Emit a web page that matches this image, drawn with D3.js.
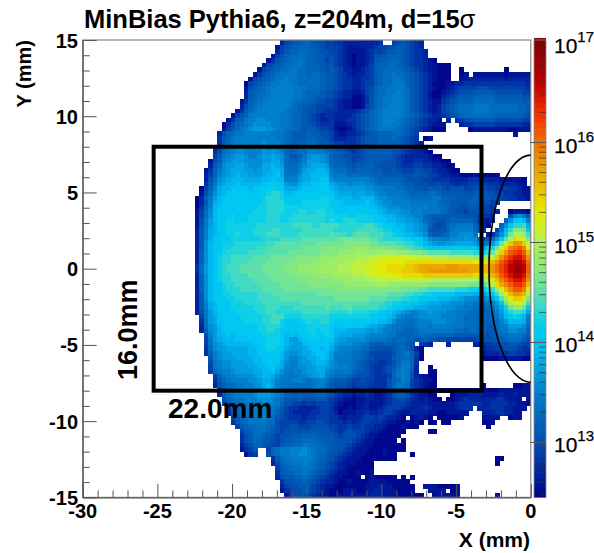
<!DOCTYPE html>
<html>
<head>
<meta charset="utf-8">
<title>MinBias Pythia6</title>
<script src="https://cdn.jsdelivr.net/npm/d3@7"></script>
<style>
  html, body { margin: 0; padding: 0; background: #fff; }
  svg { display: block; }
  text { font-family: "Liberation Sans", Arial, sans-serif; fill: #000; }
</style>
</head>
<body>
<svg id="chart" width="594" height="553"></svg>
<script>
// ─── Data ────────────────────────────────────────────────────
const titleText = "MinBias Pythia6, z=204m, d=15";
const xTicks = [-30, -25, -20, -15, -10, -5, 0];
const yTicks = [-15, -10, -5, 0, 5, 10, 15];
const zDecades = [13, 14, 15, 16, 17];
const boxCorners = [[-25.25, -8], [-3.3, 8]];
const ellipseRadii = [2.8, 7.45];

// one char per bin, log10(flux) = 12.5 + 0.1 * index in levelChars, "." = empty
const levelChars = "abcdefghijklmnopqrstuvwxyzABCDEFGHIJKLMNOPQRS";
const firstColumn = 25; // columns before this one are always empty
// rows run from y=+15 down to y=-15, columns from x=-22.5 to x=0, 0.3mm bins
const rows = [
"..... ..... ..... ....c efggh hgffe eddcc ccccc cd..e fgfed c....",
"..... ..... ..... ...be fghhh hggfe eedcb bbccc deeff ggfed c....",
"..... ..... ..... ...ce ghhii hhgff eedcb bbbcd eefgg hgfed dc...",
"..... ..... ..... ..bef hiiii hhggf fedcb abbcd ffghh hgfed dc...",
"..... ..... ..... .bdfg hiiji hhgge fedcb abbcd gghhi hgfed dcba.",
"..... ..... ..... befgh iijji hhhgf gedcb abbce ghhii hgfed dcbba aa...",
"..... ..... ....b efghi ijjii hhhgf gfecc bbcde ghiii ihgfe dcbba aa..a ..... ....a",
"..... ..... ...bd fghij jjjii hiihg gfedc bccde ghiij iihgf edcba aa..a b.bbb bbbba bbbbb",
"..... ..... ..bef ghijj kjjii iiihg gfedd ccdde ghiij jihgf edcba aa..b bcccc ccccb ccccc",
"..... ..... .aefg hijjk kjjii iiihg gfedd ccdee ghiij jjhgf edcaa abbcc ddddd ddddd ddddc",
"..... ..... .bfgh ijjkk kkjjj iiihg gfedd ccdef hiijj jjigf edcba abcde eeeff feeee eeeed",
"..... ..... .cghi ijkkk kkjji hhhgf fedcc bbcef hiijj kjigf edbaa bcdef ffggg ggfff fffee",
"..... ..... .cghi jjkkk kkjji hhggf fedcc aabdf hijjk kjigf edbaa cdefg gghhh hhggg gggff",
"..... ..... bdhij jkkkk kjiih hgffe edcbb aabdf hijjk kjigf edcbb defgh hhiii iihhh hhhgg",
"..... ..... cfhij kkkkk kjihg gfeee edcbb aabef hijkk kjigf edcbc efghi iijjj jiiii iihhg",
"..... ....b dgijk kkkkk jiihg ffeed ddccc cdefh ijkkk kjigf edcbc efghi iijjj jiiii iihhg",
"..... ...be ghjkk kkkkj jihhg fedcd dcccc defgh ijkkk kjihg fedcc defgh iiiii iihhh hhhgf",
"..... ..bdg hjkkl lkkkj jiihg fedcc dcccd defgh ijkkk jihgf edccb .c.de fgggg ggfff fffee",
"..... .adfh ijkll llkkj jihhg gfedd dbbbc defgh ijkkj jihgf edcbb b...c ddeee eeddd dddcc",
"..... .begi jklmm mllkk jiihg ggfee dbaab cefgh ijjjj ihgfe dcbaa a.... .abbb bbbbb aabbb",
"..... cfhij jkkkk kkjjj ihggg hggff ecbbc cdefg ghhhh ihgfe ..... ..... ..... ..... .b...",
"..... dghjk kkkkk kkkjj ihggg hhggf ecccd defgg ghhhi hgfed .ab..",
"..... dgijk kkkkk lkkkj ihghh iihgg feedd defgg ghhhh hgfed c....",
"....c ehjkl lkkkk lkkkj iggii jjiih gffed defgg ggggg gfedc cb...",
"....d fijkl lkkkk mlmlk hghii kkjji hggfe defgg ggggf fedcc cba..",
"....e gjklm mlkkl mmnml igghj lmmlk hggff eefgg ggggf edccc ccbaa",
"...bf hklmm mllll mmnnl ihhik mmmlk hhggf efggg ggfff edccd dccbb aa...",
"...cg ilmmn nmlll nnonm iiijl mnnnm ihhhg fgghh gffff eddde eddcc baa..",
"..bdh jlmnn nmmlm nnoon jiikm nnoon jiiih ghhhh ggffg feeef feedc cbaa.",
"..ceh klmno nnmmm noopn jjjln noooo kjjji iiiih hhggg gfffg ffeed ccbba aabaa aab..",
"..cfi lmnoo onnnn oopoo kkkmn noopp lkkkk kkkkj ihhhh hgfff feedd ddccc cdddc cccbb bbba.",
"..dgj mnoop ooooo ppqpp mllno oppqp nmllk lllkk jiiii ihggf ffeef eedcd deeee dddcc ccbb.",
".aehk noopp ppopp qqrqq nnnop pppqq onmmm mmmll kkjjj iihhg gfggg fefff eefff eedde ddcbb",
".bfil nopqq qqppq qrssr oopqq qqqqq ponnn mnnmm lkkjj jjihh hhiih ggggg ffggg ffeed dccbb",
"achjm opqqq qqqqq rsssr qqqqq qqqrr qoooo nnooo mllkk kjjii iiijj hhhgg gghgg gffee ddccb",
"acgkn opqqq qqqqq rssss qqqqr rrrrr qppoo ooopo nmllk kkkjj jjjji hhggg ghhgf fed.. .....",
"adhko pqqqq qqqqr rssss rrrrr rrrrr qqppp ppppo onmll lkkkk kkjji ihggf fggfe ed... .....",
"beilo pqqqq qqqrr rssss rrrss rrssr rqqqq qqqqp ponmm mllkk kjjjj ihgff efffe edc.. abbba",
"beilo pqqrq qqrrr rsssr rrsss ssssr rrrrq qrrrq qpoon mmllk kihgg ggggg fffed dc... fkljg",
"bfjmo pqrrq qqrrr rsssr rssss ssssr srrss srrrr qppoo nnmml kihgf fghhh hhgec bc..h lpqok",
"bfjmo pqrrr rrrrs sssss ssttt tsstt ttsss ssstt srqqp oonnm lkhfe fhijj jjhfc a..hl psstn",
"cgkno pqrrr rrrss sstts sssst ttttt tssss stttt tsrrq ponnm lkgff ghjkk kkigd ..ejo swwvq",
"cgkno pqrrs rrrss sttts ssstt ttttt uttts tuuut ttssr qpoon mlhgg hikkl llj.. bdhlq vzzyt",
"cgknp qqqrr rrrrr sssst ttttu uuuuu uuvvv vvvvu utsss srrqq pnlkk kklll mllif fimqu zDCBw",
"cglop qrrrs sssss sttuu uuuuu uuvvv vvvww wwwwv vuuuu ttssr qonml lmmnn nnmki jmqvA EHHEA",
"cglop qrrss sssst ttuuu uuuuv vvvvw wwwww xxxxw wwwvv vuuts srqpp ppqqq qppon psvAE IJKIC",
"chlop qrsss ssttt tuuuu uvvvv vvvww wwxxx xyyyx xyyyy xxxww wvuuu uuttt ttssr tvAEH KLMKF",
"chlop rsstt tttuu uuvvv vvvww wwwxx xxyyy yzzzA AABBB BBBAA AAAzz zyyyy yyxxw xAEHK MOOMH",
"chlop rsstt ttuuu uvvvv vwwww wxxxx yyyyz zAAAB BCCCC CCDDD DDDDD DDDDD DDCCC DFHKM OQQOJ",
"dimop rsttt uuuuu vvvvv wwwxx xxxyy yyzzz AAABB CCCDD DDEEF GGGGG GHHHG GGGGF FHJLN PRSPK",
"dimop rsttt uuuuu vvvvv wwwxx xxyyy yyzzz AAABB CCCDD DEEEF GGHHH HHHHH HGGGF FHJLN PRSPK",
"chlop rsstt ttuuu uvvvv vwwww wxxxx xyyyy zzzAA BBBBC CDDDD DEEEE EEEEE EEDDD DFHKM OQQOJ",
"chlop rsstt tttuu uuvvv vvvww wwwww xxxxy yyyzz zAAAA AAAAA AAAzz zzzzz zzzyy zCFIK MOOMH",
"chlop qrsst ttttu uuuuv vvvvv wwwww wwwxx xxxxx yyyxx xxxxx xxwww wwwww wvvvu wzDGI KMMKF",
"chlop qrsss ttttt uuuuu vvvvv vvvvv vwwww wwwww wwwww wvvvv uuttt tttss srrqq stxCF IKKIC",
"cglop qrrss sssst ttuuu uuuuu uuvvv vvvvv vvvvv vvvuu uutts srrqq qppoo oonnm oqtyC FHHFz",
"cglop qqrrs sssst ttttu uuuuu uuuuu uvvvv vvvvu uuutt tssrr qqppo oonnm lllkk lnpuy CEECw",
"cgkno qqqrr rssss ttttt ttttu uuuuu uuuuu uuuut ttssr rqqpp oonnn mmlll kkjji jkmqv zBBzt",
"cgkno pqqrr rrrss sttts ssttt ttttu tttuu ttttt tssrq qpoon nnmmm lllkk jjiih ijlnr vxxvq",
"cfjmo pqqqr rrrrs sttss sssst ttttt sssst ssssr rqppo nmlkk llmll lkkkj jiiih hikmp sttsn",
".ejmn pqqqq rrrrr ssttt rrrrs sssss rrrrr rrrrq qppon lkjjk lllll kkkjj iiihh hijlo qrqok",
".dimn ppqqq qrrrr ssttr qqqqr srrss rqqqq qqqqp poonl jjiij kkkll lkkjj iiiih hhikm ooonj",
".cilm opqqq qqqqr rsssr qppqq rrrrr qppqp pppon nmlkj jiiij kkjkk kkjjj iiihh ggijk mmmli",
".chlm opppq qqqqr rssrq pppqq rrqrr qooon nnnml mlkkj iihhi jjjjj jjjii hiihh gghjj llkkh",
"..fkm oopop ppqqq rrrrq opopq qrqqr qonnn mmmlk kkkjj hhhhh iiihh hhhgg ggggg fghii jjjig",
"..ejm nooop ppppq qrrrq ommop pqqpq pnmml lllkj jjjih iihhg ghggf feeee eeeff fffhh iiihf",
"..ejl mnooo ooopp qrrrq onmmo ppppp omlll kkjjh gghhg hhgf. edc.. .c... ..ccd deeff ggfee",
"..dil mmnnn nnoop qrrqp nmmmn oppop nlkkk jjiig ffffg hihfc a.... ..... ....c ddeef ffedd",
"..dhk lmmnn nnoop pqqpo mllmn noppo mkkjj iihge eeeef hijhe a.... ..... ....b cccdd eeddc",
"...gk lmmmn nnnoo ppqpo mkklm nnopo mjjjj iihgf eeeeg hiihd a.... ..... ....a aaabb bbbaa",
"...fj kllmm mnnoo ppqpn lkklm mnoon lkjjj ihgfe eddef hjjhd",
"...ej kllmm mmnno oppon kkkll mmnnm lkkkj ihgfe ddefg ikkhc ..a..",
"...ei jkklm mmmnn oopnl kjkkl mmnnl kjjjj hggfe ddefh jkjgc ..aa.",
"....e hjkkl lllmn oonlk jjjkk lmmnk jiiih gfffe dddeh jkjfc bbaa.",
"....d gijkk kkllm nnmkj jjkkj ijkkj hgggf eefee dddfh ikjed cbba.",
"....c fhiij jkkll nomkj jiiii ijkki gfffe deeed dddfh jjied cbaa. ..... ....a ..... .aabb",
"..... dgiij jjkkl mnlji iiiih hjjih ggfed cdeed ccdfg iihdc baaaa aaaaa aaaaa aaabb bbbbb",
"..... cgijk kkklm mmlkj hhghg gghhg fedcc bccdc bbcdf ggfdc bbaa. ..abb bcccb bbbcb bcbbb",
"..... .fhij jkkkl llkji ggggf ffggf edcbb abbcc bbcde ffedc bcbaa .aabc dcccc ccddc bbb.b",
"..... .egii jjkkk lkkjh ffeed edeee dcbaa abbcb bbcde eedcc ccbbb bbbcd ddddc cdddd ccbba",
"..... ..dhi jjkkk kkjig eddcc ccdee dbaab abccb bcdee edccc cdcbb bbbcd dd.cc cdddc cbbb.",
"..... ..chi ijjjk kjjhf edccc cddee dcabb bccdc cdeed cbbcc ccbba abbbb b...c ccddc cbb..",
"..... ...eh iijjj kjigf edddc ddeee ddcbc ccdee dedcc ba.ab cba.a aaaab ....b bbb.. abb..",
"..... ...dg hijjj jiife eeedd eeffe dddcd cdeed ddcbb aabab a.aa. aa... ....a ab...",
"..... ....e ghiij jihfe effee effff eedde ddedd ccbaa abaaa ..... ..... ..... a....",
"..... ..... eghii ihgfe fffff fgggg fedef eeedc cbaaa aa... ..aa.",
"..... ..... dfgii hgfef fgggh hhggg gfeff fedcb baaaa a....",
"..... ..... dfgih ggfef gghhi iihhg gffff edcbb aaaaa .a...",
"..... ..... cefhh gfeeg hhiij jiihh gfffe dcbbb aaaaa aa...",
"..... ..... bdeg. .ehij jkkkl kjiih gffed cbbba aabaa aa...",
"..... ..... .bde. .fhij jkkll kjihg ffedc bbbaa aabaa ...a.",
"..... ..... ..... ..dgi jjkkk kjihg fedcb bbaaa aaaaa ..... ..... ..... ..... ..aa.",
"..... ..... ..... ..cfh ijjjk jihgf edcbb baaaa ..... ..... ..... ..... ..... ..a..",
"..... ..... ..... ...eg hiiij jihgf edcba aaaaa",
"..... ..... ..... ...dg hhiij ihgfe dcbba abaab",
"..... ..... ..... ...cf gghhi hgfed cbbaa aa.ab aaaaa .a.a.",
"..... ..... ..... ....d ffggh gfedc cbaab aaaab bbbaa aaa..",
"..... ..... ..... ....c effgg fedcb baaaa aaabb bcbba aaaa. .bbba aaab.",
"..... ..... ..... ....b deffg fedcb aaabb baabb ccbbb aaaa. ..bbb b.ab.",
"..... ..... ..... ..... befff edcbb aabbb bbbbc ccbbb aaaaa a..ab bbbb. ..... ..b.."
];

// colour bar stops: log10 value -> colour
const paletteLogs = [12.45, 12.7, 13, 13.3, 13.5, 13.7, 13.9, 14, 14.15, 14.35, 14.55, 14.75, 15, 15.2, 15.35, 15.7, 16, 16.3, 16.6, 17.03];
const paletteColors = ["#000088", "#0024a0", "#0050b0", "#006cc0", "#0080cc", "#009cdf", "#00b8f0", "#00c4f4", "#00ccf0", "#34d8cc", "#68e2a0", "#8cea78", "#aef058", "#d2f020", "#e8e400", "#e8a800", "#f07000", "#f03000", "#c00000", "#800000"];

// ─── Setup ───────────────────────────────────────────────────
const svg = d3.select("#chart");
const x = d3.scaleLinear().domain([-30, 0]).range([82.7, 530.8]);
const y = d3.scaleLinear().domain([-15, 15]).range([497.4, 40]);
const zY = d3.scaleLinear().domain([13, 17]).range([442.4, 42.6]);
const color = d3.scaleLinear().domain(paletteLogs).range(paletteColors);

// ─── Heat map ────────────────────────────────────────────────
const binSize = 0.3;
const cells = [];
rows.forEach((row, r) => {
  row.replace(/ /g, "").split("").forEach((ch, i) => {
    const level = levelChars.indexOf(ch);
    if (level < 0) return;
    cells.push({
      x0: -30 + (firstColumn + i) * binSize,
      y1: 15 - r * binSize,
      v: 12.5 + 0.1 * level
    });
  });
});

svg.append("g")
  .attr("shape-rendering", "crispEdges")
  .selectAll("rect")
  .data(cells)
  .join("rect")
  .attr("x", (d) => x(d.x0))
  .attr("y", (d) => y(d.y1))
  .attr("width", (d) => x(d.x0 + binSize) - x(d.x0) + 0.5)
  .attr("height", (d) => y(d.y1 - binSize) - y(d.y1) + 0.5)
  .attr("fill", (d) => color(d.v));

// ─── Frame and axes ──────────────────────────────────────────
const axisColor = "#555";
svg.append("rect")
  .attr("x", x(-30)).attr("y", y(15))
  .attr("width", x(0) - x(-30)).attr("height", y(-15) - y(15))
  .attr("fill", "none").attr("stroke", "#888").attr("stroke-width", 1.2);

const xAxis = d3.axisTop(x)
  .tickValues(d3.range(-30, 1))
  .tickSize(0).tickFormat("");
const xAxisG = svg.append("g").attr("transform", `translate(0,${y(-15)})`).call(xAxis);
xAxisG.select(".domain").attr("stroke", axisColor).attr("stroke-width", 1.2);
xAxisG.selectAll(".tick line")
  .attr("y2", (d) => (xTicks.includes(d) ? -13.5 : -7))
  .attr("stroke", axisColor).attr("stroke-width", 1);

const yAxis = d3.axisRight(y)
  .tickValues(d3.range(-15, 16))
  .tickSize(0).tickFormat("");
const yAxisG = svg.append("g").attr("transform", `translate(${x(-30)},0)`).call(yAxis);
yAxisG.select(".domain").attr("stroke", axisColor).attr("stroke-width", 1.2);
yAxisG.selectAll(".tick line")
  .attr("x2", (d) => (yTicks.includes(d) ? 14 : 7))
  .attr("stroke", axisColor).attr("stroke-width", 1);

svg.append("g").selectAll("text")
  .data(xTicks)
  .join("text")
  .attr("x", (d) => x(d))
  .attr("y", 518)
  .attr("text-anchor", "middle")
  .attr("font-size", 20).attr("font-weight", "bold")
  .text((d) => d);

svg.append("g").selectAll("text")
  .data(yTicks)
  .join("text")
  .attr("x", 78)
  .attr("y", (d) => y(d) + 7.5)
  .attr("text-anchor", "end")
  .attr("font-size", 20).attr("font-weight", "bold")
  .text((d) => d);

// ─── Titles ──────────────────────────────────────────────────
const title = svg.append("text")
  .attr("x", 84).attr("y", 28)
  .attr("font-size", 25.5).attr("font-weight", "bold")
  .text(titleText);
title.append("tspan").attr("font-weight", "normal").text("σ");

svg.append("text")
  .attr("x", 530).attr("y", 547)
  .attr("text-anchor", "end")
  .attr("font-size", 21).attr("font-weight", "bold")
  .text("X (mm)");

svg.append("text")
  .attr("transform", "translate(31,40) rotate(-90)")
  .attr("text-anchor", "end")
  .attr("font-size", 20).attr("font-weight", "bold")
  .text("Y (mm)");

// ─── Box and ellipse overlays ────────────────────────────────
svg.append("rect")
  .attr("x", x(boxCorners[0][0])).attr("y", y(boxCorners[1][1]))
  .attr("width", x(boxCorners[1][0]) - x(boxCorners[0][0]))
  .attr("height", y(boxCorners[0][1]) - y(boxCorners[1][1]))
  .attr("fill", "none").attr("stroke", "#000").attr("stroke-width", 4);

svg.append("path")
  .attr("d", `M${x(0)},${y(ellipseRadii[1])} A${x(0) - x(-ellipseRadii[0])},${y(0) - y(ellipseRadii[1])} 0 0 0 ${x(0)},${y(-ellipseRadii[1])}`)
  .attr("fill", "none").attr("stroke", "#000").attr("stroke-width", 1.6);

svg.append("text")
  .attr("x", 168).attr("y", 418)
  .attr("font-size", 28).attr("font-weight", "bold")
  .text("22.0mm");

svg.append("text")
  .attr("transform", "translate(137,380) rotate(-90)")
  .attr("font-size", 27).attr("font-weight", "bold")
  .text("16.0mm");

// ─── Colour bar ──────────────────────────────────────────────
const barX = 534, barW = 12;
const barY = d3.scaleLinear().domain(zY.domain()).range(zY.range());
const barSteps = d3.range(12.45, 17.03, 0.05);
svg.append("g")
  .attr("shape-rendering", "crispEdges")
  .selectAll("rect")
  .data(barSteps)
  .join("rect")
  .attr("x", barX).attr("width", barW)
  .attr("y", (d) => barY(d + 0.05))
  .attr("height", (d) => barY(d) - barY(d + 0.05) + 0.5)
  .attr("fill", (d) => color(d + 0.025));

svg.append("rect")
  .attr("x", barX).attr("y", 40).attr("width", barW).attr("height", 457.4)
  .attr("fill", "none").attr("stroke", "#888").attr("stroke-width", 0.8);

const minorTicks = [];
[12, 13, 14, 15, 16].forEach((dec) => {
  d3.range(2, 10).forEach((m) => {
    const v = dec + Math.log10(m);
    if (v > 12.45) minorTicks.push(v);
  });
});
svg.append("g").selectAll("line")
  .data(minorTicks)
  .join("line")
  .attr("x1", barX + barW).attr("x2", barX + barW - 7)
  .attr("y1", (d) => barY(d)).attr("y2", (d) => barY(d))
  .attr("stroke", "#333").attr("stroke-width", 1).attr("stroke-opacity", 0.7);

svg.append("g").selectAll("line")
  .data(zDecades.slice(0, 4))
  .join("line")
  .attr("x1", barX + barW).attr("x2", barX - 4)
  .attr("y1", (d) => barY(d)).attr("y2", (d) => barY(d))
  .attr("stroke", "#555").attr("stroke-width", 1);

const zLabels = svg.append("g").selectAll("text")
  .data(zDecades)
  .join("text")
  .attr("x", 554)
  .attr("y", (d) => barY(d) + 10)
  .attr("font-size", 21)
  .attr("stroke", "#000").attr("stroke-width", 0.25);
zLabels.append("tspan").text("10");
zLabels.append("tspan").attr("font-size", 15).attr("dy", -11).text((d) => d);
</script>
</body>
</html>
